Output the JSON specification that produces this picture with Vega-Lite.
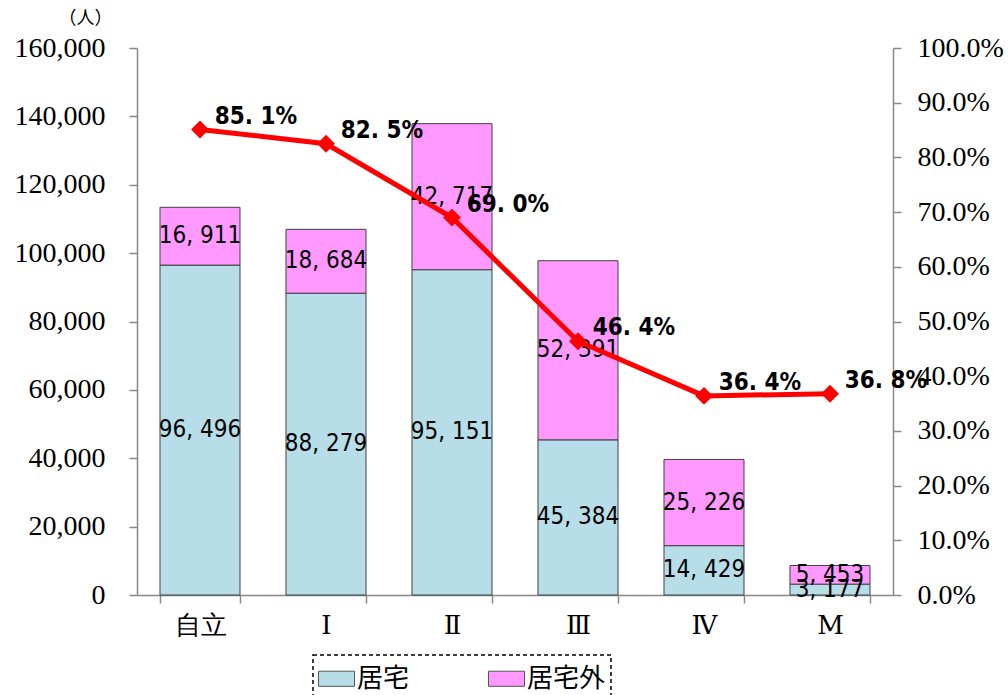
{
  "$schema": "https://vega.github.io/schema/vega-lite/v6.json",
  "autosize": {"type": "none"},
  "padding": {"left": 137, "top": 48, "right": 115, "bottom": 100},
  "width": 756,
  "height": 547,
  "background": "white",
  "config": {
    "view": {"stroke": null},
    "axis": {"grid": false, "domainColor": "#888888", "tickColor": "#888888", "domainWidth": 1.5, "tickWidth": 1.5, "labelColor": "#000000"}
  },
  "datasets": {
    "bars": [
      {"cat": "自立", "type": "居宅", "value": 96496},
      {"cat": "自立", "type": "居宅外", "value": 16911},
      {"cat": "Ⅰ", "type": "居宅", "value": 88279},
      {"cat": "Ⅰ", "type": "居宅外", "value": 18684},
      {"cat": "Ⅱ", "type": "居宅", "value": 95151},
      {"cat": "Ⅱ", "type": "居宅外", "value": 42717},
      {"cat": "Ⅲ", "type": "居宅", "value": 45384},
      {"cat": "Ⅲ", "type": "居宅外", "value": 52391},
      {"cat": "Ⅳ", "type": "居宅", "value": 14429},
      {"cat": "Ⅳ", "type": "居宅外", "value": 25226},
      {"cat": "M", "type": "居宅", "value": 3177},
      {"cat": "M", "type": "居宅外", "value": 5453}
    ],
    "line": [
      {"cat": "自立", "pct": 0.851},
      {"cat": "Ⅰ", "pct": 0.825},
      {"cat": "Ⅱ", "pct": 0.69},
      {"cat": "Ⅲ", "pct": 0.464},
      {"cat": "Ⅳ", "pct": 0.364},
      {"cat": "M", "pct": 0.368}
    ]
  },
  "encoding": {
    "x": {
      "field": "cat", "type": "nominal",
      "sort": ["自立", "Ⅰ", "Ⅱ", "Ⅲ", "Ⅳ", "M"],
      "scale": {"paddingInner": 0.365, "paddingOuter": 0.1825},
      "axis": {
        "title": null, "labelAngle": 0, "tickBand": "extent", "tickSize": 8,
        "labelPadding": 9, "labelFont": "DejaVu Serif",
        "labelFontSize": 26
      }
    }
  },
  "layer": [
    {
      "data": {"name": "bars"},
      "transform": [
        {"stack": "value", "groupby": ["cat"], "sort": [{"field": "type", "order": "ascending"}], "as": ["v0", "v1"]},
        {"calculate": "(datum.v0 + datum.v1) / 2", "as": "mid"},
        {"calculate": "replace(format(datum.value, ',d'), ',', ', ')", "as": "lbl"}
      ],
      "layer": [
        {
          "mark": {"type": "bar", "stroke": "#404040", "strokeWidth": 1},
          "encoding": {
            "y": {
              "field": "v1", "type": "quantitative",
              "scale": {"domain": [0, 160000], "nice": false},
              "axis": {
                "orient": "left", "values": [0, 20000, 40000, 60000, 80000, 100000, 120000, 140000, 160000],
                "format": ",d", "tickSize": 8, "labelPadding": 24,
                "labelFont": "Liberation Serif", "labelFontSize": 28,
                "title": "（人）", "titleAngle": 0, "titleX": -52, "titleY": -30,
                "titleAlign": "center", "titleBaseline": "middle",
                "titleFont": "Noto Sans CJK JP", "titleFontSize": 18, "titleFontWeight": "normal"
              }
            },
            "y2": {"field": "v0"},
            "color": {
              "field": "type", "type": "nominal",
              "scale": {"domain": ["居宅", "居宅外"], "range": ["#B7DEE8", "#FF99FF"]},
              "legend": {
                "title": null, "orient": "none", "direction": "horizontal",
                "legendX": 176, "legendY": 607, "padding": 5,
                "strokeColor": "#000000",
                "symbolType": "M-1,-0.42H1V0.42H-1Z", "symbolSize": 1296,
                "symbolStrokeColor": "#555555", "symbolStrokeWidth": 1,
                "symbolOpacity": 1,
                "labelFont": "Noto Sans CJK JP", "labelFontSize": 26, "labelOffset": 2,
                "columnPadding": 76,
                "encode": {"legend": {"update": {"strokeDash": {"value": [4, 3]}, "strokeWidth": {"value": 1.5}}}}
              }
            }
          }
        },
        {
          "mark": {"type": "text", "font": "DejaVu Sans Condensed", "fontSize": 24, "color": "#000000", "baseline": "middle", "align": "center"},
          "encoding": {
            "y": {"field": "mid", "type": "quantitative"},
            "text": {"field": "lbl", "type": "nominal"}
          }
        }
      ]
    },
    {
      "data": {"name": "line"},
      "transform": [
        {"calculate": "replace(format(datum.pct, '.1%'), '.', '. ')", "as": "plbl"}
      ],
      "encoding": {
        "y": {
          "field": "pct", "type": "quantitative",
          "scale": {"domain": [0, 1], "nice": false},
          "axis": {
            "orient": "right", "values": [0, 0.1, 0.2, 0.3, 0.4, 0.5, 0.6, 0.7, 0.8, 0.9, 1],
            "format": ".1%", "tickSize": 8, "labelPadding": 16,
            "labelFont": "Liberation Serif", "labelFontSize": 28, "title": null
          }
        }
      },
      "layer": [
        {"mark": {"type": "line", "color": "#FF0000", "strokeWidth": 5}, "encoding": {}},
        {"mark": {"type": "point", "shape": "diamond", "filled": true, "color": "#FF0000", "size": 320, "opacity": 1}, "encoding": {}},
        {
          "mark": {"type": "text", "font": "DejaVu Sans Condensed", "fontSize": 24, "fontWeight": "bold", "color": "#000000", "dx": 56, "dy": -13, "align": "center", "baseline": "middle"},
          "encoding": {"text": {"field": "plbl", "type": "nominal"}}
        }
      ]
    }
  ],
  "resolve": {"scale": {"y": "independent"}}
}
